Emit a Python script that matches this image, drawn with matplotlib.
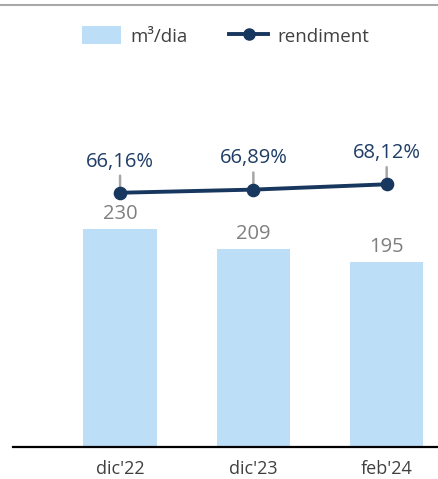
import matplotlib
matplotlib.use("Agg")
import matplotlib.pyplot as plt
from matplotlib.lines import Line2D
from matplotlib.patches import Patch
import numpy as np

plt.rcParams['font.family'] = ['Open Sans', 'DejaVu Sans']

# data
categories = ["dic'22", "dic'23", "feb'24"]
volume = [230, 209, 195]            # m3/dia
rendiment = [66.16, 66.89, 68.12]   # %
pct_labels = ["66,16%", "66,89%", "68,12%"]

bar_color = '#BDDEF7'
line_color = '#17375E'
leader_color = '#A6A6A6'

fig = plt.figure(figsize=(4.38, 4.79), dpi=100)
ax = fig.add_axes([13 / 438, 32.3 / 479, 1 - 13 / 438, 386.7 / 479])
x = np.arange(len(categories))

# bars
ax.bar(x, volume, width=0.55, color=bar_color, zorder=1)
for xi, v in zip(x, volume):
    ax.annotate(str(v), (xi, v), xytext=(0, 10.5), textcoords='offset points',
                ha='center', va='center', fontsize=14.5, color='#7F7F7F')

ax.set_xlim(-0.803, 2.385)
ax.set_ylim(0, 408)
ax.set_xticks(x)
ax.set_xticklabels(categories, fontsize=13, color='#404040')
ax.tick_params(axis='x', length=0, pad=9.5)
ax.set_yticks([])
for s in ['top', 'right', 'left']:
    ax.spines[s].set_visible(False)
ax.spines['bottom'].set_linewidth(1.6)
ax.spines['bottom'].set_color('black')

# rendiment line on a second scale
ax2 = ax.twinx()
ax2.set_ylim(7.36, 96.9)
ax2.axis('off')
ax2.plot(x, rendiment, color=line_color, lw=2.8, marker='o', ms=8.8, zorder=3)
for xi, v, lab in zip(x, rendiment, pct_labels):
    ax2.annotate(lab, (xi, v), xytext=(0, 22.5), textcoords='offset points',
                 ha='center', va='center', fontsize=14.5, color='#1F3D66',
                 arrowprops=dict(arrowstyle='-', color=leader_color, lw=1.8,
                                 relpos=(0.5, 0), shrinkA=1.0, shrinkB=0),
                 zorder=2)

# legend
handles = [Patch(facecolor=bar_color, edgecolor='none', label='m³/dia'),
           Line2D([0], [0], color=line_color, lw=2.8, marker='o', ms=8,
                  label='rendiment')]
fig.legend(handles=handles, loc='center', bbox_to_anchor=(225.5 / 438, 1 - 36 / 479),
           ncol=2, frameon=False, fontsize=13.5, handlelength=2.1,
           handleheight=1.1, handletextpad=0.5, columnspacing=2.2,
           labelcolor='#404040')

# grey rule at the top
fig.add_artist(Line2D([0, 1], [1 - 4.5 / 479, 1 - 4.5 / 479], color='#A8A8A8',
                      lw=1.5, transform=fig.transFigure))

fig.savefig('out.png', dpi=100)
